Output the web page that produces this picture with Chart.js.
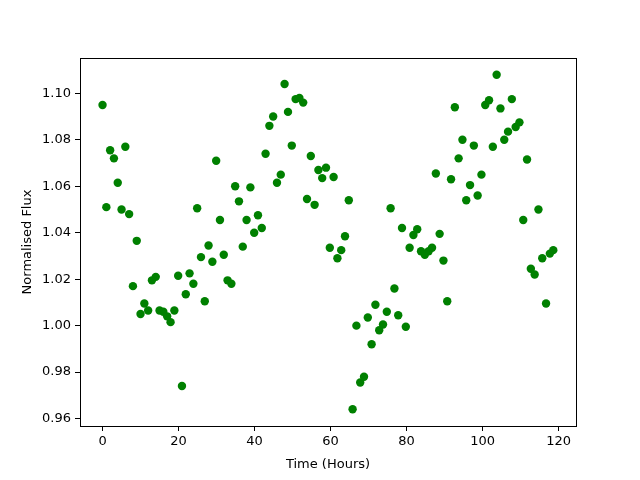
<!DOCTYPE html>
<html>
<head>
<meta charset="utf-8">
<script src="https://cdn.jsdelivr.net/npm/chart.js@4/dist/chart.umd.min.js"></script>
<style>
  html, body { margin: 0; padding: 0; background: #fff; }
  #wrap { width: 640px; height: 480px; }
</style>
</head>
<body>
<div id="wrap"><canvas id="myChart" width="640" height="480"></canvas></div>
<script>
// time of each sample (hours)
const hours = [
  0, 1, 2, 3, 4, 5, 6, 7, 8, 9,
  10, 11, 12, 13, 14, 15, 16, 17, 17.9, 18.9,
  19.9, 20.9, 21.9, 22.9, 23.9, 24.9, 25.9, 26.9, 27.9, 28.9,
  29.9, 30.9, 31.9, 32.9, 33.9, 34.9, 35.9, 36.9, 37.9, 38.9,
  39.9, 40.9, 41.9, 42.9, 43.9, 44.9, 45.9, 46.9, 47.9, 48.8,
  49.8, 50.8, 51.8, 52.8, 53.8, 54.8, 55.8, 56.8, 57.8, 58.8,
  59.8, 60.8, 61.8, 62.8, 63.8, 64.8, 65.8, 66.8, 67.8, 68.8,
  69.8, 70.8, 71.8, 72.8, 73.8, 74.8, 75.8, 76.8, 77.8, 78.8,
  79.8, 80.8, 81.8, 82.8, 83.8, 84.8, 85.8, 86.7, 87.7, 88.7,
  89.7, 90.7, 91.7, 92.7, 93.7, 94.7, 95.7, 96.7, 97.7, 98.7,
  99.7, 100.7, 101.7, 102.7, 103.7, 104.7, 105.7, 106.7, 107.7, 108.7,
  109.7, 110.7, 111.7, 112.7, 113.7, 114.7, 115.7, 116.7, 117.7, 118.6
];
// normalised flux
const flux = [
  1.095, 1.051, 1.0755, 1.072, 1.0615, 1.050, 1.077, 1.048, 1.017, 1.0365,
  1.005, 1.0095, 1.0065, 1.0195, 1.021, 1.0065, 1.006, 1.004, 1.0015, 1.0065,
  1.0215, 0.974, 1.0135, 1.0225, 1.018, 1.0505, 1.0295, 1.0105, 1.0345, 1.0275,
  1.071, 1.0455, 1.0305, 1.0195, 1.018, 1.060, 1.0535, 1.034, 1.0455, 1.0595,
  1.040, 1.0475, 1.042, 1.074, 1.086, 1.090, 1.0615, 1.065, 1.104, 1.092,
  1.0775, 1.0975, 1.098, 1.096, 1.0545, 1.073, 1.052, 1.067, 1.0635, 1.068,
  1.0335, 1.064, 1.029, 1.0325, 1.0385, 1.054, 0.964, 1.000, 0.9755, 0.978,
  1.0035, 0.992, 1.009, 0.998, 1.0005, 1.006, 1.0505, 1.016, 1.0045, 1.042,
  0.9995, 1.0335, 1.039, 1.0415, 1.032, 1.0305, 1.032, 1.0335, 1.0655, 1.0395,
  1.028, 1.0105, 1.063, 1.094, 1.072, 1.080, 1.054, 1.0605, 1.0775, 1.056,
  1.065, 1.095, 1.097, 1.077, 1.108, 1.0935, 1.080, 1.0835, 1.0975, 1.0855,
  1.0875, 1.0455, 1.0715, 1.0245, 1.022, 1.050, 1.029, 1.0095, 1.031, 1.0325
];
const xTicks = [0, 20, 40, 60, 80, 100, 120];
const yTicks = [0.96, 0.98, 1.00, 1.02, 1.04, 1.06, 1.08, 1.10];

const points = hours.map((h, i) => ({ x: h, y: flux[i] }));

// matplotlib style box around the axes
const boxPlugin = {
    id: 'box',
    afterDraw(chart) {
        const a = chart.chartArea;
        const ctx = chart.ctx;
        ctx.save();
        ctx.strokeStyle = '#000';
        ctx.lineWidth = 1;
        ctx.strokeRect(Math.round(a.left) + 0.5, Math.round(a.top) + 0.5,
            Math.round(a.right - a.left), Math.round(a.bottom - a.top));
        ctx.restore();
    }
};

Chart.defaults.font.family = "'DejaVu Sans', sans-serif";
Chart.defaults.font.size = 13;
Chart.defaults.color = '#000';

let myChart = document.getElementById('myChart').getContext('2d');
window.fluxChart = new Chart(myChart, {
    type: 'scatter',
    data: {
        datasets: [{
            data: points,
            backgroundColor: '#008000',
            borderColor: '#008000',
            borderWidth: 0,
            pointRadius: 4.2,
            pointHoverRadius: 4.2,
        }]
    },
    options: {
        responsive: false,
        animation: false,
        layout: { padding: { top: 58, right: 64, left: 0, bottom: 0 } },
        plugins: {
            legend: { display: false },
            tooltip: { enabled: false },
        },
        scales: {
            x: {
                type: 'linear',
                min: -5.93,
                max: 124.58,
                afterBuildTicks: (scale) => { scale.ticks = xTicks.map(v => ({ value: v })); },
                afterFit: (scale) => { scale.height = 54; },
                ticks: { padding: 3, maxRotation: 0, callback: (v) => String(v) },
                grid: { drawOnChartArea: false, drawTicks: true, tickLength: 5, color: '#000' },
                border: { display: true, color: '#000' },
                title: { display: true, text: 'Time (Hours)', padding: { top: 4, bottom: 8 } },
            },
            y: {
                type: 'linear',
                min: 0.9568,
                max: 1.1152,
                afterBuildTicks: (scale) => { scale.ticks = yTicks.map(v => ({ value: v })); },
                afterFit: (scale) => { scale.width = 80; },
                ticks: { padding: 4, callback: (v) => v.toFixed(2) },
                grid: { drawOnChartArea: false, drawTicks: true, tickLength: 5, color: '#000' },
                border: { display: true, color: '#000' },
                title: { display: true, text: 'Normalised Flux', padding: { top: 20, bottom: 0 } },
            },
        },
    },
    plugins: [boxPlugin],
});
</script>
</body>
</html>
